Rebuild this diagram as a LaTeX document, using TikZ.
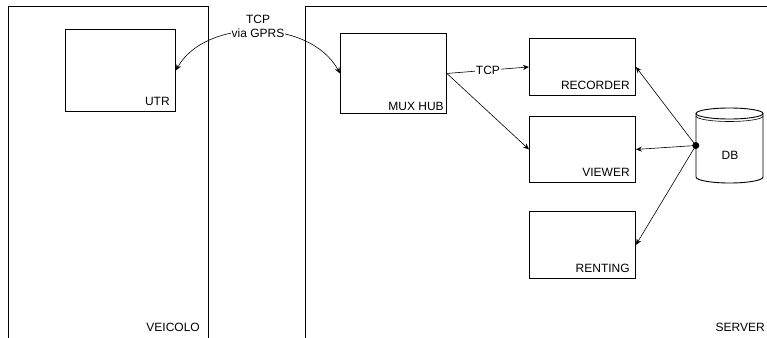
\documentclass[tikz,border=0pt]{standalone}
\usepackage{fontspec}
\setmainfont{Liberation Sans}
\usetikzlibrary{arrows.meta}

\begin{document}
\begin{tikzpicture}[x=1pt,y=-1pt,-,>={Stealth[length=6pt,width=5pt]},auto,
                    font=\fontsize{12}{14}\selectfont]
    \tikzset{frame/.style={draw,line width=0.9pt,inner sep=0pt,anchor=north west},
             box/.style={draw,line width=0.9pt,inner sep=0pt,anchor=north west,
                         minimum width=106pt},
             tag/.style={anchor=south east,inner sep=5pt},
             link/.style={line width=0.6pt},
             every edge/.style={draw,link}}
    \useasboundingbox (0,0) rectangle (767,337);
    % the two sides
    \node[frame,minimum width=200pt,minimum height=345pt] (veicolo) at (8,6) {};
    \node[frame,minimum width=470pt,minimum height=345pt] (server) at (305,6) {};
    \node[anchor=base east,inner sep=0pt] (veicololbl) at (200,331) {VEICOLO};
    \node[anchor=base east,inner sep=0pt] (serverlbl) at (765,331) {SERVER};
    % units
    \node[box,minimum width=110pt,minimum height=82pt,
          label={[tag,inner sep=6pt]south east:UTR}] (utr) at (65,29) {};
    \node[box,minimum height=80pt,
          label={[tag,inner sep=3pt]south east:MUX HUB}] (mux) at (340,33) {};
    \node[box,minimum height=57pt,
          label={[tag,inner sep=6pt]south east:RECORDER}] (rec) at (529,38) {};
    \node[box,minimum height=66pt,
          label={[tag,inner sep=6pt]south east:VIEWER}] (view) at (529,116) {};
    \node[box,minimum height=67pt,
          label={[tag,inner sep=6pt]south east:RENTING}] (rent) at (529,211) {};
    % database
    \node[minimum width=67pt,minimum height=75pt,inner sep=0pt] (db) at (729.5,145.5) {};
    \node (dblbl) at (730,155) {DB};
    \draw[line width=0.9pt] (729.5,113.5) ellipse [x radius=33.5,y radius=5.5];
    \draw[line width=0.6pt] (696,116) arc[start angle=180,end angle=0,x radius=33.5,y radius=5.5];
    \draw[line width=0.9pt] (696,113.5) -- (696,177)
        arc[start angle=180,end angle=0,x radius=33.5,y radius=6] -- (763,113.5);
    % links
    \draw[link,<->] (utr.east) .. controls (205,18) and (310,18) .. (mux.west);
    \node[fill=white,inner sep=1pt,align=center] (gprs) at (258,26) {TCP\\via GPRS};
    \path
    (mux.east) edge[->] node[fill=white,inner sep=1pt,swap,anchor=center]{TCP} (rec.west)
    (mux.east) edge[->] (view.west)
    (db.west) edge[->] (rec.east)
    (db.west) edge[->] (view.east)
    (db.west) edge[->] (rent.east);
    \fill (db.west) circle (3.5pt);
\end{tikzpicture}
\end{document}
